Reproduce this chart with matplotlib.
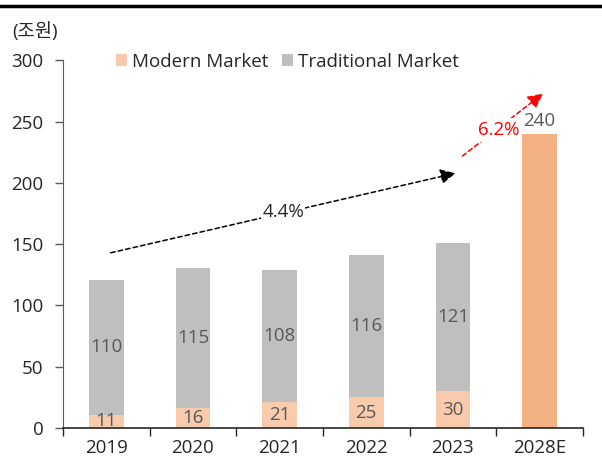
import matplotlib
matplotlib.use("Agg")
import matplotlib.pyplot as plt
from matplotlib.lines import Line2D
import numpy as np

plt.rcParams['font.family'] = ['Open Sans', 'Noto Sans CJK KR', 'DejaVu Sans']

years = ["2019", "2020", "2021", "2022", "2023", "2028E"]
modern = [11, 16, 21, 25, 30]
traditional = [110, 115, 108, 116, 121]
forecast_total = 240
cagr_hist = "4.4%"
cagr_fcst = "6.2%"

c_modern = "#F8CBAD"
c_trad = "#BFBFBF"
c_fcst = "#F4B183"
c_lab = "#595959"
c_txt = "#262626"

fig = plt.figure(figsize=(6.02, 4.67), dpi=100)
ax = fig.add_axes([0.1047, 0.0835, 0.8635, 0.787])

x = np.arange(len(years))
w = 0.4
hist_x = x[:5]
ax.bar(hist_x, modern, width=w, color=c_modern, zorder=2, label="Modern Market")
ax.bar(hist_x, traditional, width=w, bottom=modern, color=c_trad, zorder=2, label="Traditional Market")
ax.bar(x[5], forecast_total, width=w, color=c_fcst, zorder=6)

fs = 13.5
for xi, m, t in zip(hist_x, modern, traditional):
    ax.text(xi, m / 2, str(m), ha="center", va="center", fontsize=fs, color=c_lab, zorder=3)
    ax.text(xi, m + t / 2, str(t), ha="center", va="center", fontsize=fs, color=c_lab, zorder=3)
ax.text(x[5], forecast_total + 3, str(forecast_total), ha="center", va="bottom", fontsize=fs, color=c_lab, zorder=7)

# CAGR arrows
ax.annotate("", xy=(4.03, 208), xytext=(0.05, 143),
            arrowprops=dict(arrowstyle="-|>,head_length=0.9,head_width=0.45", linestyle=(0, (3, 2)),
                            color="black", lw=1.1, shrinkA=0, shrinkB=0), zorder=4)
ax.text(2.04, 176, cagr_hist, ha="center", va="center", fontsize=fs, color=c_txt,
        bbox=dict(facecolor="white", edgecolor="none", pad=0.5), zorder=5)
ax.annotate("", xy=(5.04, 273), xytext=(4.11, 222),
            arrowprops=dict(arrowstyle="-|>,head_length=0.9,head_width=0.45", linestyle=(0, (3, 2)),
                            color="#FF0000", lw=1.1, shrinkA=0, shrinkB=0), zorder=4)
ax.text(4.53, 243, cagr_fcst, ha="center", va="center", fontsize=fs, color="#FF0000",
        bbox=dict(facecolor="white", edgecolor="none", pad=2), zorder=5)

ax.set_xlim(-0.5, 5.5)
ax.set_ylim(0, 300)
ax.set_yticks(np.arange(0, 301, 50))
ax.set_xticks(x)
ax.set_xticklabels(years)
ax.set_xticks(np.arange(-0.5, 5.6, 1), minor=True)
ax.tick_params(axis="x", which="major", length=0, pad=8, labelsize=fs, labelcolor=c_txt)
ax.tick_params(axis="x", which="minor", length=6, width=1, color=c_txt)
ax.tick_params(axis="y", length=6, width=1, color="#595959", labelsize=fs, labelcolor=c_txt, pad=8)
for s in ["top", "right"]:
    ax.spines[s].set_visible(False)
ax.spines["left"].set_color("#595959")
ax.spines["bottom"].set_color(c_txt)
ax.spines["bottom"].set_linewidth(1.2)
ax.spines["bottom"].set_zorder(8)

leg = fig.legend(loc="center left", bbox_to_anchor=(0.165, 0.868), ncol=2, frameon=False,
                 fontsize=fs, handlelength=0.6, handleheight=0.6, handletextpad=0.25,
                 columnspacing=0.7, labelcolor=c_txt)

fig.text(0.02, 0.933, "(조원)", fontsize=fs, color=c_txt, va="center", ha="left")
fig.add_artist(Line2D([0, 1], [0.987, 0.987], color="black", lw=2.5, transform=fig.transFigure))

fig.savefig("out.png", dpi=100)
